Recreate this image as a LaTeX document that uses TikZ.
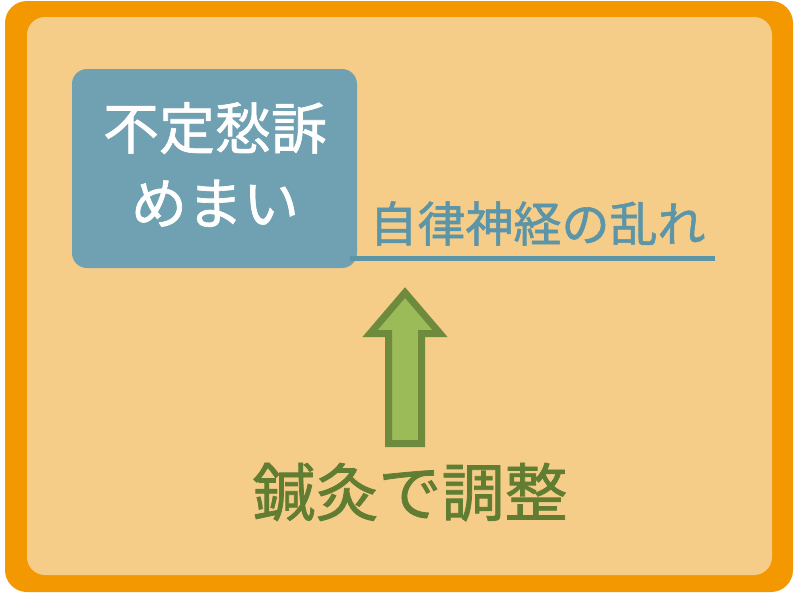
\documentclass[tikz,border=0pt]{standalone}
\usepackage{fontspec}
\newfontfamily\jp[FakeBold=1.2]{Noto Sans CJK JP}
\definecolor{outerorange}{HTML}{F39800}
\definecolor{innerbg}{HTML}{F5CD89}
\definecolor{boxblue}{HTML}{6FA1B3}
\definecolor{lineblue}{HTML}{5C95A8}
\definecolor{arrowedge}{HTML}{6E8B3D}
\definecolor{arrowfill}{HTML}{9BBB59}
\definecolor{textgreen}{HTML}{617D32}
\tikzset{
  bluebox/.style={fill=boxblue, rounded corners=15pt, inner sep=0pt},
  boxtext/.style={text=white, align=center, inner sep=0pt, font=\jp\fontsize{56}{75}\selectfont},
  bluetext/.style={text=lineblue, inner sep=0pt, font=\jp\fontsize{48}{56}\selectfont},
  greentext/.style={text=textgreen, inner sep=0pt, font=\jp\fontsize{63}{70}\selectfont},
  blueline/.style={draw=lineblue, line width=5pt},
  bigarrow/.style={draw=arrowedge, fill=arrowfill, line width=7pt, line join=miter},
}
\begin{document}
\begin{tikzpicture}[x=1pt,y=-1pt]
\useasboundingbox (0,0) rectangle (800,598);
\fill[white] (0,0) rectangle (800,598);
\fill[outerorange, rounded corners=22pt] (5,1) rectangle (793,592);
\fill[innerbg, rounded corners=18pt] (27,17) rectangle (772,575);
\node[bluebox, minimum width=285pt, minimum height=199pt] (box) at (214.5,168.5) {};
\node[boxtext] (boxlabel) at (215,164.5) {不定愁訴\\めまい};
\coordinate (ls) at (350,258);
\coordinate (le) at (715,258);
\draw[blueline] (ls) -- (le);
\node[bluetext] (cause) at (537.5,223.5) {自律神経の乱れ};
\node[greentext] (treat) at (410,492.5) {鍼灸で調整};
\draw[bigarrow] (405,292.6) -- (370,333.5) -- (388.5,333.5) -- (388.5,443.5)
  -- (421.5,443.5) -- (421.5,333.5) -- (440,333.5) -- cycle;
\end{tikzpicture}
\end{document}
